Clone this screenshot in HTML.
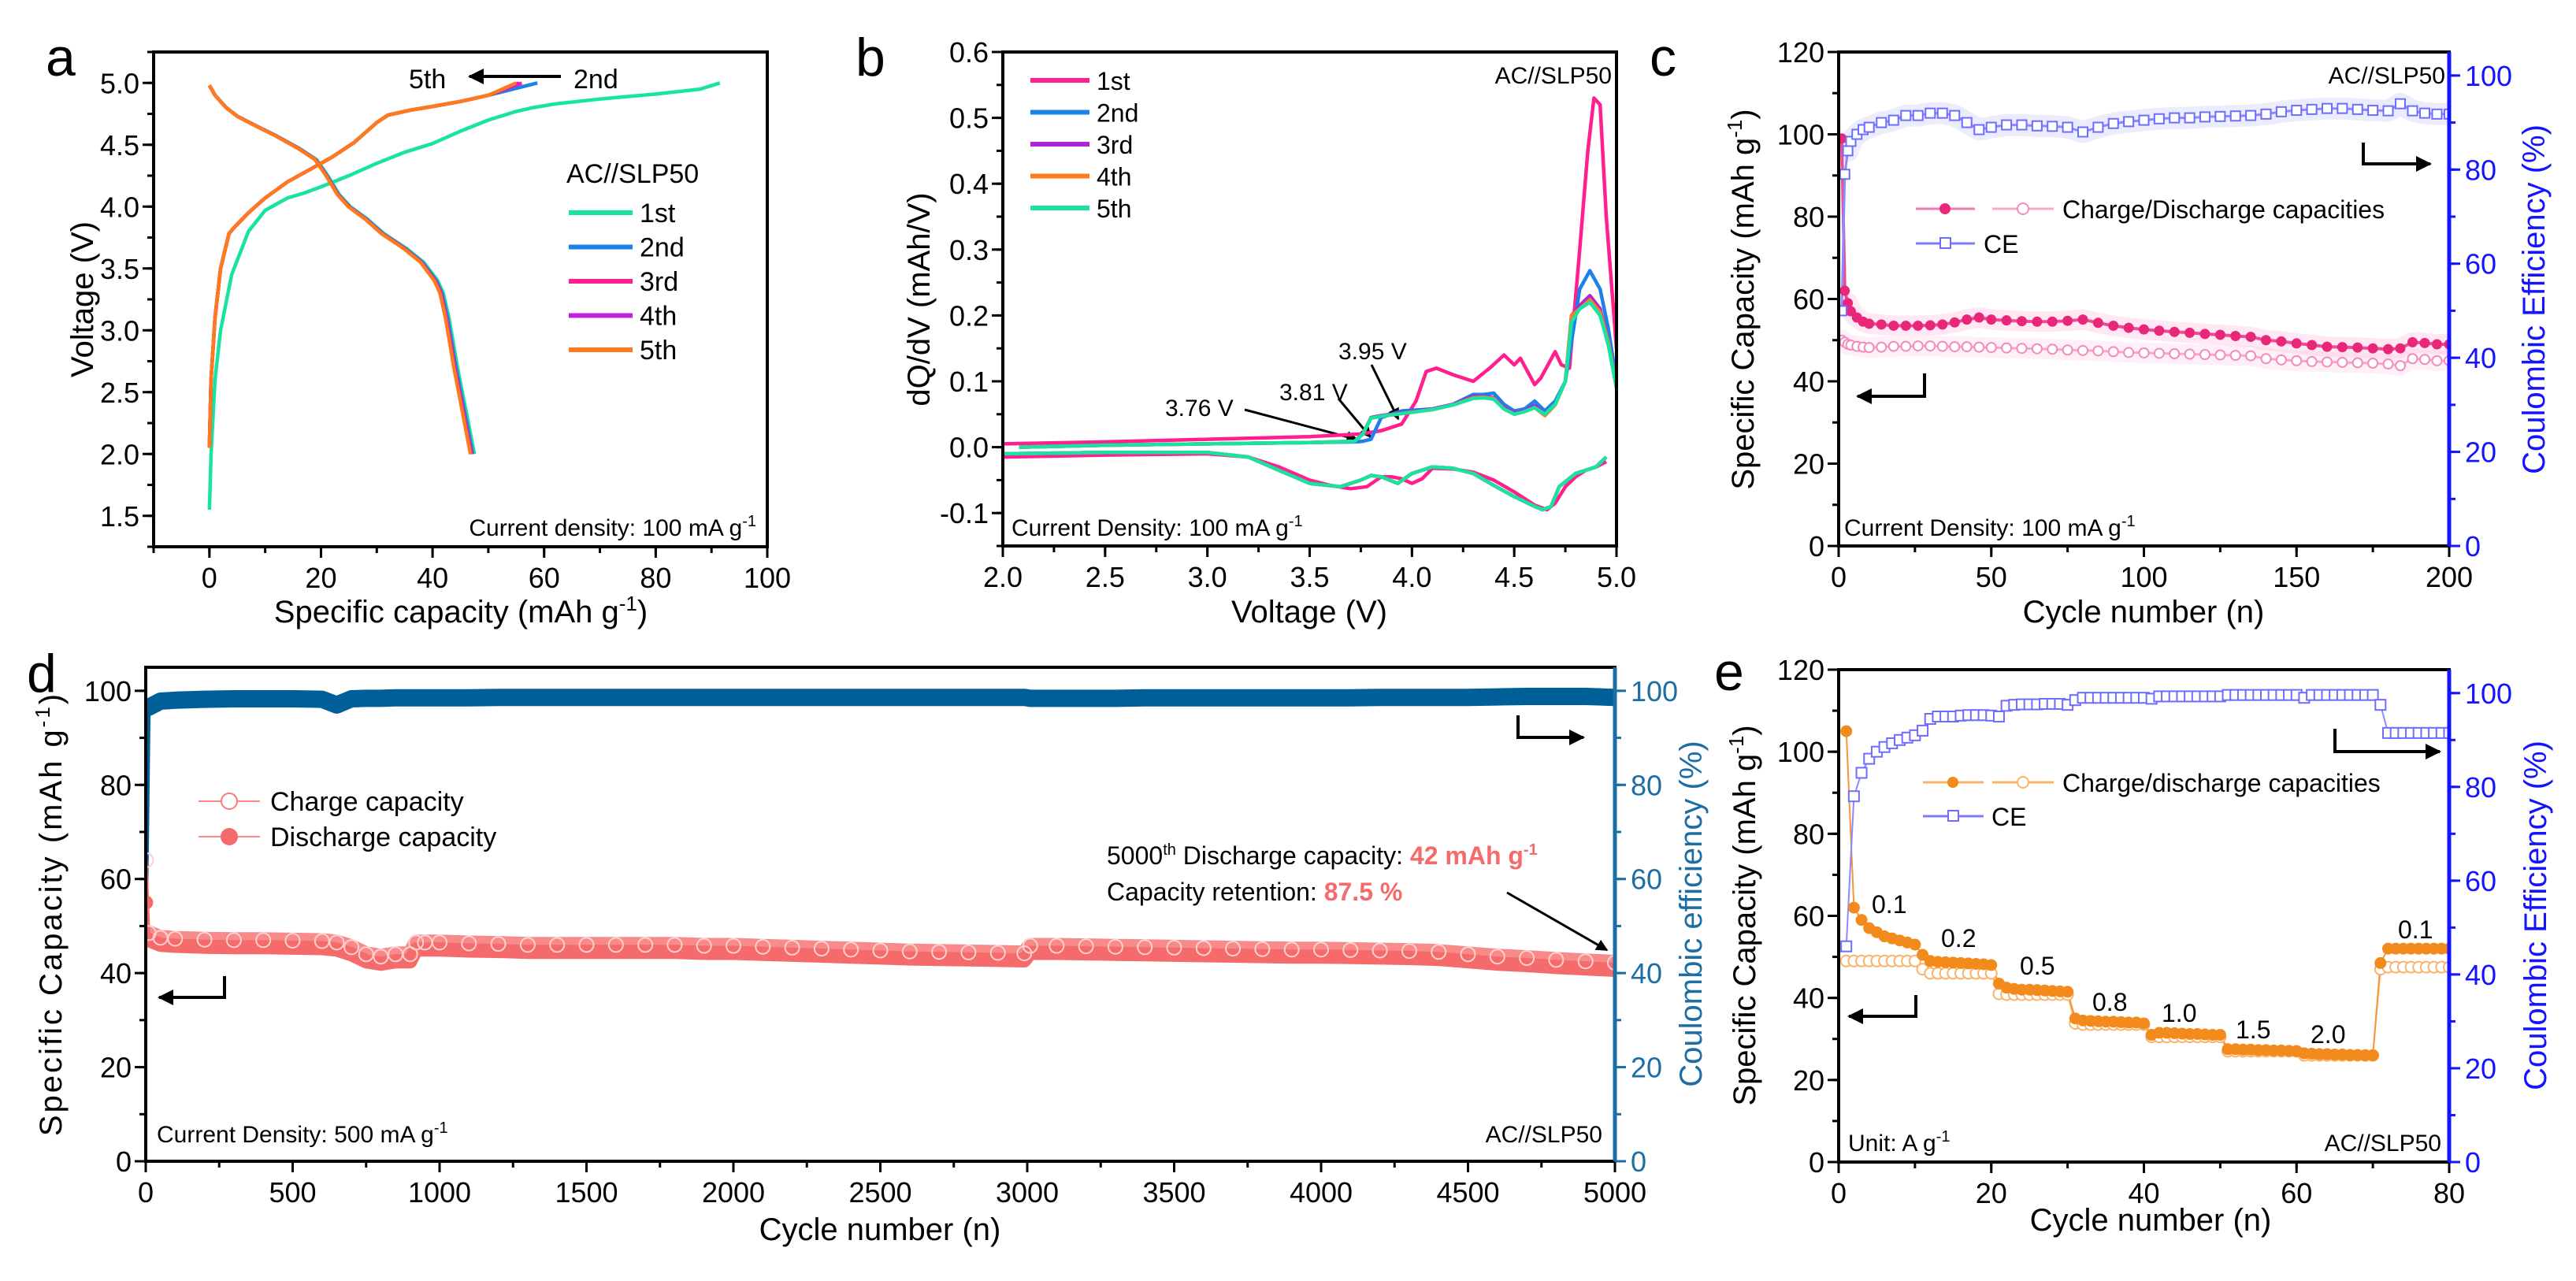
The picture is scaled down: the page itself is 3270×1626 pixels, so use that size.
<!DOCTYPE html>
<html><head><meta charset="utf-8"><style>
html,body{margin:0;padding:0;background:#fff;}
svg{display:block;font-family:"Liberation Sans",Arial,sans-serif;}
</style></head><body>
<svg id="fig" width="3270" height="1626" viewBox="0 0 3270 1626" xmlns="http://www.w3.org/2000/svg">
<defs>
<marker id="ah" markerWidth="5" markerHeight="5" refX="4.5" refY="2.5" orient="auto" markerUnits="strokeWidth"><path d="M0,0 L5,2.5 L0,5 z" fill="#000"/></marker>
</defs>
<rect x="0" y="0" width="3270" height="1626" fill="#fff"/>

<!-- panel letters -->
<text x="58" y="96" font-size="68">a</text>
<text x="1086" y="96" font-size="68">b</text>
<text x="2094" y="96" font-size="68">c</text>
<text x="34" y="878" font-size="68">d</text>
<text x="2176" y="876" font-size="68">e</text>

<!-- panel a texts -->
<text transform="translate(118,380) rotate(-90)" text-anchor="middle" font-size="40">Voltage (V)</text>
<text x="585" y="790" text-anchor="middle" font-size="40">Specific capacity (mAh g<tspan dy="-15" font-size="26">-1</tspan><tspan dy="15">)</tspan></text>
<text x="519" y="112" font-size="34">5th</text>
<line x1="712" y1="97" x2="596" y2="97" stroke="#000" stroke-width="4" marker-end="url(#ah)"/>
<text x="728" y="112" font-size="34">2nd</text>
<text x="719" y="232" font-size="34">AC//SLP50</text>
<text x="960" y="680" text-anchor="end" font-size="30">Current density: 100 mA g<tspan dy="-12" font-size="20">-1</tspan></text>

<!-- panel b texts -->
<text transform="translate(1180,380) rotate(-90)" text-anchor="middle" font-size="40">dQ/dV (mAh/V)</text>
<text x="1662" y="790" text-anchor="middle" font-size="40">Voltage (V)</text>
<text x="2046" y="106" text-anchor="end" font-size="30">AC//SLP50</text>
<text x="1284" y="680" font-size="30">Current Density: 100 mA g<tspan dy="-12" font-size="20">-1</tspan></text>
<text x="1479" y="528" font-size="30">3.76 V</text>
<line x1="1580" y1="520" x2="1723" y2="558" stroke="#000" stroke-width="3" marker-end="url(#ah)"/>
<text x="1624" y="508" font-size="30">3.81 V</text>
<line x1="1699" y1="506" x2="1740" y2="555" stroke="#000" stroke-width="3" marker-end="url(#ah)"/>
<text x="1699" y="456" font-size="30">3.95 V</text>
<line x1="1741" y1="463" x2="1775" y2="532" stroke="#000" stroke-width="3" marker-end="url(#ah)"/>

<!-- panel c texts -->
<text transform="translate(2226,380) rotate(-90)" text-anchor="middle" font-size="40">Specific Capacity (mAh g<tspan dy="-15" font-size="26">-1</tspan><tspan dy="15">)</tspan></text>
<text transform="translate(3230,380) rotate(-90)" text-anchor="middle" font-size="40" fill="#1414ff">Coulombic Efficiency (%)</text>
<text x="2721" y="790" text-anchor="middle" font-size="40">Cycle number (n)</text>
<text x="3104" y="106" text-anchor="end" font-size="30">AC//SLP50</text>
<text x="2341" y="680" font-size="30">Current Density: 100 mA g<tspan dy="-12" font-size="20">-1</tspan></text>
<g>
<line x1="2432" y1="265" x2="2507" y2="265" stroke="#f07ab0" stroke-width="3"/>
<circle cx="2469" cy="265" r="7" fill="#e8267a"/>
<line x1="2529" y1="265" x2="2607" y2="265" stroke="#f6a8cc" stroke-width="3"/>
<circle cx="2568" cy="265" r="7" fill="#fff" stroke="#f28cbc" stroke-width="2"/>
<text x="2618" y="277" font-size="32">Charge/Discharge capacities</text>
<line x1="2432" y1="309" x2="2507" y2="309" stroke="#7b7bff" stroke-width="3"/>
<rect x="2463" y="302" width="13" height="13" fill="#fff" stroke="#6d6dff" stroke-width="2"/>
<text x="2518" y="321" font-size="32">CE</text>
</g>
<path d="M3000,181 L3000,208 L3085,208" fill="none" stroke="#000" stroke-width="4" marker-end="url(#ah)"/>
<path d="M2443,474 L2443,503 L2358,503" fill="none" stroke="#000" stroke-width="4" marker-end="url(#ah)"/>

<!-- panel d texts -->
<text transform="translate(78,1160) rotate(-90)" text-anchor="middle" font-size="40" letter-spacing="3">Specific Capacity (mAh g<tspan dy="-15" font-size="26">-1</tspan><tspan dy="15">)</tspan></text>
<text transform="translate(2160,1160) rotate(-90)" text-anchor="middle" font-size="40" fill="#1c6ea4">Coulombic efficiency (%)</text>
<text x="1117" y="1574" text-anchor="middle" font-size="40">Cycle number (n)</text>
<g>
<line x1="252" y1="1017" x2="330" y2="1017" stroke="#f88" stroke-width="2"/>
<circle cx="291" cy="1017" r="10" fill="#fff" stroke="#f77" stroke-width="2"/>
<text x="343" y="1029" font-size="34">Charge capacity</text>
<line x1="252" y1="1062" x2="330" y2="1062" stroke="#f88" stroke-width="2"/>
<circle cx="291" cy="1062" r="11" fill="#f56b6b"/>
<text x="343" y="1074" font-size="34">Discharge capacity</text>
</g>
<text x="1405" y="1097" font-size="32">5000<tspan dy="-12" font-size="20">th</tspan><tspan dy="12"> Discharge capacity: </tspan><tspan fill="#f56b6b" font-weight="bold">42 mAh g<tspan dy="-12" font-size="20">-1</tspan></tspan></text>
<text x="1405" y="1143" font-size="32">Capacity retention: <tspan fill="#f56b6b" font-weight="bold">87.5 %</tspan></text>
<line x1="1913" y1="1133" x2="2040" y2="1206" stroke="#000" stroke-width="3" marker-end="url(#ah)"/>
<path d="M1927,908 L1927,936 L2010,936" fill="none" stroke="#000" stroke-width="4" marker-end="url(#ah)"/>
<path d="M285,1239 L285,1266 L202,1266" fill="none" stroke="#000" stroke-width="4" marker-end="url(#ah)"/>
<text x="199" y="1450" font-size="30">Current Density: 500 mA g<tspan dy="-12" font-size="20">-1</tspan></text>
<text x="2034" y="1450" text-anchor="end" font-size="30">AC//SLP50</text>

<!-- panel e texts -->
<text transform="translate(2228,1162) rotate(-90)" text-anchor="middle" font-size="40">Specific Capacity (mAh g<tspan dy="-15" font-size="26">-1</tspan><tspan dy="15">)</tspan></text>
<text transform="translate(3232,1162) rotate(-90)" text-anchor="middle" font-size="40" fill="#1414ff">Coulombic Efficiency (%)</text>
<text x="2730" y="1562" text-anchor="middle" font-size="40">Cycle number (n)</text>
<g>
<line x1="2441" y1="993" x2="2518" y2="993" stroke="#f9b36a" stroke-width="3"/>
<circle cx="2479" cy="993" r="7" fill="#f28a1c"/>
<line x1="2529" y1="993" x2="2607" y2="993" stroke="#f9b36a" stroke-width="3"/>
<circle cx="2568" cy="993" r="7" fill="#fff" stroke="#f9b36a" stroke-width="2"/>
<text x="2618" y="1005" font-size="32">Charge/discharge capacities</text>
<line x1="2441" y1="1036" x2="2518" y2="1036" stroke="#7b7bff" stroke-width="3"/>
<rect x="2473" y="1029" width="13" height="13" fill="#fff" stroke="#6d6dff" stroke-width="2"/>
<text x="2528" y="1048" font-size="32">CE</text>
</g>
<path d="M2964,925 L2964,954 L3097,954" fill="none" stroke="#000" stroke-width="4" marker-end="url(#ah)"/>
<path d="M2432,1263 L2432,1290 L2347,1290" fill="none" stroke="#000" stroke-width="4" marker-end="url(#ah)"/>
<text x="2346" y="1461" font-size="30">Unit: A g<tspan dy="-12" font-size="20">-1</tspan></text>
<text x="3099" y="1461" text-anchor="end" font-size="30">AC//SLP50</text>
<g font-size="32">
<text x="2376" y="1159">0.1</text>
<text x="2464" y="1202">0.2</text>
<text x="2564" y="1237">0.5</text>
<text x="2656" y="1283">0.8</text>
<text x="2744" y="1297">1.0</text>
<text x="2838" y="1318">1.5</text>
<text x="2933" y="1324">2.0</text>
<text x="3044" y="1191">0.1</text>
</g>
</svg>
<script>
// ---------- Panel a data ----------
const aCharge1Cap=[0,0.3,1,2,4,7,10,12,14,17,20,25,30,35,40,45,50,55,58,62,70,80,88,91.5];
const aCharge1V=[1.55,2.0,2.6,3.0,3.45,3.8,3.97,4.02,4.07,4.11,4.16,4.25,4.35,4.44,4.51,4.61,4.7,4.77,4.8,4.83,4.87,4.91,4.95,5.0];
const aChargeCap=[0,0.3,1,2,3.5,4.2,7,10,14,18,22,26,30,32,36,40,45,50];
const aChargeV=[2.05,2.6,3.1,3.5,3.78,3.82,3.95,4.07,4.2,4.3,4.4,4.52,4.68,4.74,4.78,4.81,4.85,4.9];
const aChargeEnd=[58.8,56,55.5,55];
const aDisCap=[0,1,3,5,8,12,16,19,21,23,25,28,31,35,38,40.5,41.5,42.5,44,45.5,47];
const aDisV=[4.98,4.9,4.8,4.73,4.66,4.57,4.47,4.38,4.25,4.1,4.0,3.9,3.78,3.66,3.55,3.4,3.3,3.1,2.7,2.35,2.0];
const aDisShift=[0.5,0.2,0,-0.1,-0.2];
const aCycles=['1st','2nd','3rd','4th','5th'];
// ---------- Panel b data ----------
const bV1=[2.0,2.5,3.0,3.5,3.75,3.85,3.95,4.02,4.07,4.12,4.2,4.3,4.38,4.45,4.5,4.53,4.6,4.63,4.7,4.73,4.77,4.82,4.86,4.89,4.92,4.95,5.0];
const bQ1=[0.005,0.008,0.012,0.016,0.02,0.025,0.035,0.07,0.115,0.12,0.11,0.10,0.12,0.14,0.125,0.135,0.095,0.105,0.145,0.125,0.12,0.30,0.45,0.53,0.52,0.35,0.15];
const bVn=[2.08,2.5,3.0,3.5,3.72,3.76,3.8,3.85,3.95,4.1,4.2,4.3,4.35,4.4,4.45,4.5,4.55,4.6,4.65,4.7,4.75,4.78,4.82,4.87,4.92,4.96,5.0];
const bQ2=[0,0.003,0.005,0.007,0.008,0.009,0.012,0.045,0.055,0.058,0.065,0.08,0.08,0.082,0.065,0.055,0.058,0.07,0.055,0.07,0.1,0.16,0.24,0.268,0.24,0.18,0.1];
const bQ3=[0,0.003,0.005,0.007,0.009,0.02,0.045,0.048,0.052,0.058,0.065,0.077,0.077,0.075,0.06,0.052,0.055,0.063,0.05,0.065,0.1,0.2,0.215,0.23,0.21,0.16,0.09];
const bQ4=[0,0.003,0.005,0.007,0.009,0.02,0.044,0.047,0.051,0.057,0.064,0.075,0.076,0.074,0.058,0.05,0.054,0.06,0.048,0.064,0.1,0.2,0.21,0.224,0.205,0.16,0.09];
const bQ5=[0,0.003,0.005,0.007,0.009,0.02,0.044,0.047,0.051,0.057,0.064,0.074,0.075,0.073,0.058,0.05,0.054,0.06,0.05,0.065,0.1,0.19,0.21,0.22,0.2,0.155,0.09];
const bVd1=[2.0,2.5,3.0,3.2,3.35,3.5,3.6,3.7,3.78,3.85,3.9,3.95,4.0,4.05,4.1,4.2,4.3,4.4,4.5,4.6,4.66,4.7,4.75,4.8,4.85,4.9,4.95];
const bD1=[-0.015,-0.012,-0.01,-0.015,-0.03,-0.05,-0.058,-0.063,-0.06,-0.045,-0.045,-0.048,-0.055,-0.048,-0.032,-0.033,-0.038,-0.05,-0.068,-0.088,-0.095,-0.085,-0.06,-0.045,-0.035,-0.03,-0.022];
const bVdn=[2.0,2.5,3.0,3.2,3.35,3.5,3.65,3.75,3.8,3.85,3.93,4.0,4.1,4.2,4.3,4.4,4.5,4.6,4.64,4.68,4.72,4.8,4.85,4.9,4.95];
const bDn=[-0.01,-0.008,-0.008,-0.015,-0.035,-0.055,-0.06,-0.05,-0.043,-0.045,-0.055,-0.04,-0.03,-0.032,-0.04,-0.058,-0.075,-0.09,-0.095,-0.09,-0.06,-0.04,-0.035,-0.03,-0.015];
// ---------- Panel c data ----------
const cCycles=[1,2,3,4,6,8,10,14,18,22,26,30,34,38,42,46,50,55,60,65,70,75,80,85,90,95,100,105,110,115,120,125,130,135,140,145,150,155,160,165,170,175,180,184,188,192,196,200];
const cDischarge=[99,62,59,57,55.5,54.5,54,53.8,53.5,53.5,53.5,53.6,53.8,54.3,55,55.5,55,54.8,54.6,54.5,54.5,54.7,55,54.2,53.5,53,52.6,52.3,52,51.8,51.5,51.3,51,50.8,50,49.7,49.2,48.8,48.4,48.3,48.2,48,47.8,48,49.5,49.3,49,49];
const cCharge=[50,49.5,49,48.8,48.5,48.3,48.2,48.3,48.5,48.5,48.6,48.6,48.5,48.4,48.4,48.3,48.2,48.1,48,47.9,47.8,47.6,47.5,47.4,47.2,47,46.9,46.8,46.7,46.6,46.5,46.4,46.3,46.2,45.5,45.2,45,44.8,44.7,44.6,44.5,44.4,44.2,43.8,45.5,45.3,45,45];
const cCE=[50,79,84,86,87.5,88.5,89,90,90.5,91.5,91.5,92,92,91.5,90,88.5,89,89.5,89.5,89.3,89.2,89,88,89,89.8,90.2,90.5,90.8,91,91,91.2,91.3,91.4,91.5,91.8,92.3,92.6,92.8,93,93,92.8,92.6,92.5,94,92.5,92,91.8,91.8];
// ---------- Panel d data ----------
const dCycles=[1,10,50,100,200,300,400,500,600,650,700,750,800,850,900,920,950,1000,1100,1200,1300,1400,1500,1600,1700,1800,1900,2000,2100,2200,2300,2400,2500,2600,2700,2800,2900,2990,3010,3100,3200,3300,3400,3500,3600,3700,3800,3900,4000,4100,4200,4300,4400,4500,4600,4700,4800,4900,5000];
const dDischarge=[55,47,46,45.8,45.6,45.5,45.5,45.4,45.3,45,44,42.5,42,42.5,42.5,45,45,45,44.8,44.7,44.5,44.5,44.5,44.5,44.5,44.5,44.3,44.3,44.1,43.9,43.7,43.5,43.3,43.1,43,42.9,42.8,42.7,44.3,44.3,44.2,44.1,44,43.9,43.8,43.7,43.6,43.5,43.5,43.4,43.3,43.2,43,42.5,42,41.7,41.3,41,40.7];
const dCharge=[64,48.5,47.5,47.3,47.1,47,47,46.9,46.8,46.5,45.5,44,43.5,44,44,46.5,46.5,46.5,46.3,46.2,46,46,46,46,46,46,45.8,45.8,45.6,45.4,45.2,45,44.8,44.6,44.5,44.4,44.3,44.2,45.8,45.8,45.7,45.6,45.5,45.4,45.3,45.2,45.1,45,45,44.9,44.8,44.7,44.5,44,43.5,43.2,42.8,42.5,42.2];
const dCE=[52,96.5,97.8,98,98.2,98.3,98.3,98.3,98.2,97,98.3,98.4,98.4,98.5,98.5,98.5,98.5,98.5,98.5,98.6,98.6,98.6,98.6,98.6,98.6,98.6,98.6,98.6,98.6,98.6,98.6,98.6,98.6,98.6,98.6,98.6,98.6,98.6,98.4,98.4,98.4,98.4,98.5,98.5,98.5,98.5,98.5,98.5,98.5,98.5,98.6,98.6,98.6,98.6,98.7,98.8,98.8,98.8,98.6];
// ---------- Panel e data ----------
const eCycles=[1,2,3,4,5,6,7,8,9,10,11,12,13,14,15,16,17,18,19,20,21,22,23,24,25,26,27,28,29,30,31,32,33,34,35,36,37,38,39,40,41,42,43,44,45,46,47,48,49,50,51,52,53,54,55,56,57,58,59,60,61,62,63,64,65,66,67,68,69,70,71,72,73,74,75,76,77,78,79,80];
const eDischarge=[105,62,59,57,56,55,54.5,54,53.5,53,50.5,49,48.8,48.7,48.6,48.5,48.4,48.3,48.2,48,43.5,42.5,42.2,42,42,41.9,41.8,41.7,41.6,41.5,35,34.5,34.4,34.3,34.2,34.2,34.1,34,34,33.8,31,31.5,31.5,31.4,31.3,31.2,31.2,31.1,31,31,27.5,27.5,27.4,27.4,27.3,27.3,27.2,27.2,27.1,27,26.5,26.4,26.3,26.3,26.2,26.2,26.1,26.1,26,26,48.5,52,52,52,52,52,52,52,52,52];
const eCharge=[49,49,49,49,49,49,49,49,49,49,47,46,46,46,46,46,46,46,46,46,41,40.8,40.8,40.8,40.8,40.8,40.8,40.8,40.8,40.8,33.8,33.5,33.5,33.5,33.5,33.5,33.5,33.5,33.5,33.5,30.5,30.5,30.5,30.5,30.5,30.5,30.5,30.5,30.5,30.5,27,27,27,27,27,27,27,27,27,27,26,26,26,26,26,26,26,26,26,26,47,47.5,47.5,47.5,47.5,47.5,47.5,47.5,47.5,47.5];
const eCE=[46,78,83,86,87.5,88.5,89.3,90,90.5,91,92,94.5,95,95,95,95.2,95.3,95.3,95.3,95.2,95,97.3,97.5,97.6,97.6,97.6,97.7,97.7,97.7,97.5,98.5,99,99,99,99,99,99,99,99,99,98.8,99.3,99.3,99.3,99.3,99.3,99.3,99.3,99.3,99.3,99.6,99.6,99.6,99.6,99.6,99.6,99.6,99.6,99.6,99.6,99,99.6,99.6,99.6,99.6,99.6,99.6,99.6,99.6,99.6,97.5,91.5,91.5,91.5,91.5,91.5,91.5,91.5,91.5,91.5];

const NS='http://www.w3.org/2000/svg';
const svg=document.getElementById('fig');
function mk(tag,attrs,parent){
  const e=document.createElementNS(NS,tag);
  for(const k in attrs) e.setAttribute(k,attrs[k]);
  (parent||svg).appendChild(e);
  return e;
}
function lin(d0,d1,r0,r1){return v=>r0+(v-d0)/(d1-d0)*(r1-r0);}
function range(a,b,s){const o=[];for(let v=a;v<=b+1e-9;v+=s)o.push(+v.toFixed(6));return o;}

function axes(name,p,xs,ys,xt,xm,xf,yt,ym,yf,r){
  const g=mk('g',{});
  
  
  xm.forEach(v=>{const x=xs(v);mk('line',{x1:x,y1:p.b,x2:x,y2:p.b+8,stroke:'#000','stroke-width':3},g);});
  xt.forEach(v=>{const x=xs(v);mk('line',{x1:x,y1:p.b,x2:x,y2:p.b+14,stroke:'#000','stroke-width':3},g);
    const t=mk('text',{x:x,y:p.b+52,'text-anchor':'middle','font-size':36},g);
    
    
    t.textContent=xf(v);});
  ym.forEach(v=>{const y=ys(v);mk('line',{x1:p.l,y1:y,x2:p.l-8,y2:y,stroke:'#000','stroke-width':3},g);});
  yt.forEach(v=>{const y=ys(v);mk('line',{x1:p.l,y1:y,x2:p.l-14,y2:y,stroke:'#000','stroke-width':3},g);
    const t=mk('text',{x:p.l-18,y:y+13,'text-anchor':'end','font-size':36},g);
    
    
    t.textContent=yf(v);});
  mk('rect',{x:p.l,y:p.t,width:p.r-p.l,height:p.b-p.t,fill:'none',stroke:'#000','stroke-width':4},g);
  if(r){
    mk('line',{x1:p.r,y1:p.t,x2:p.r,y2:p.b,stroke:r.color,'stroke-width':5},g);
    r.minor.forEach(v=>{const y=r.s(v);mk('line',{x1:p.r,y1:y,x2:p.r+8,y2:y,stroke:r.color,'stroke-width':3},g);});
    r.ticks.forEach(v=>{const y=r.s(v);mk('line',{x1:p.r,y1:y,x2:p.r+14,y2:y,stroke:r.color,'stroke-width':3},g);
      const t=mk('text',{x:p.r+20,y:y+13,'font-size':36,fill:r.color},g);
      
      
      t.textContent=String(v);});
  }
}
function clip(id,p){const c=mk('clipPath',{id:id});mk('rect',{x:p.l,y:p.t,width:p.r-p.l,height:p.b-p.t},c);return 'url(#'+id+')';}
function pathD(xa,ya,xs,ys){return xa.map((v,i)=>(i?'L':'M')+xs(v).toFixed(1)+','+ys(ya[i]).toFixed(1)).join(' ');}

// ===== Panel a =====
const pa={l:195,r:974,t:66,b:694};
const axs=lin(-10,100,pa.l,pa.r), ays=lin(1.25,5.25,pa.b,pa.t);
const aColors=['#19e3a0','#1e80ea','#ff1f8f','#c31fe0','#ff7a1a'];
const ga=mk('g',{'clip-path':clip('clipa',pa)});


for(let k=0;k<5;k++){
  let cx,cv;
  if(k===0){cx=aCharge1Cap;cv=aCharge1V;}
  else{cx=aChargeCap.concat([aChargeEnd[k-1]]);cv=aChargeV.concat([5.0]);}
  const c=mk('path',{d:pathD(cx,cv,axs,ays),fill:'none',stroke:aColors[k],'stroke-width':4.5,'stroke-linejoin':'round'},ga);
  
  
  const dx=aDisCap.map(v=>v+aDisShift[k]*(v/47));
  const d=mk('path',{d:pathD(dx,aDisV,axs,ays),fill:'none',stroke:aColors[k],'stroke-width':4.5,'stroke-linejoin':'round'},ga);
  
  
}
axes('a',pa,axs,ays,range(0,100,20),range(-10,100,10),v=>String(v),range(1.5,5.0,0.5),range(1.25,5.25,0.25),v=>v.toFixed(1),null);
for(let k=0;k<5;k++){
  const y=270+k*43.5;
  const l=mk('line',{x1:722,y1:y,x2:803,y2:y,stroke:aColors[k],'stroke-width':6});
  
  
  const t=mk('text',{x:812,y:y+12,'font-size':34});
  
  
  t.textContent=aCycles[k];
}

// ===== Panel b =====
const pb={l:1273,r:2052,t:66,b:693};
const bxs=lin(2,5,pb.l,pb.r), bys=lin(-0.15,0.6,pb.b,pb.t);
const bColors=['#ff1f8f','#1e80ea','#b024d8','#ff7a1a','#19e3a0'];
const bCharge=[bQ1,bQ2,bQ3,bQ4,bQ5];
const gb=mk('g',{'clip-path':clip('clipb',pb)});


for(let k=0;k<5;k++){
  const vx=k===0?bV1:bVn;
  const c=mk('path',{d:pathD(vx,bCharge[k],bxs,bys),fill:'none',stroke:bColors[k],'stroke-width':4.5,'stroke-linejoin':'round'},gb);
  
  
  const dv=k===0?bVd1:bVdn, dq=k===0?bD1:bDn;
  const d=mk('path',{d:pathD(dv,dq,bxs,bys),fill:'none',stroke:bColors[k],'stroke-width':4.5,'stroke-linejoin':'round'},gb);
  
  
}
axes('b',pb,bxs,bys,range(2,5,0.5),range(2,5,0.25),v=>v.toFixed(1),range(-0.1,0.6,0.1),range(-0.15,0.6,0.05),v=>v.toFixed(1).replace('-0.0','0.0'),null);
for(let k=0;k<5;k++){
  const y=102+k*40.5;
  const l=mk('line',{x1:1308,y1:y,x2:1383,y2:y,stroke:bColors[k],'stroke-width':6});
  
  
  const t=mk('text',{x:1392,y:y+12,'font-size':32});
  
  
  t.textContent=aCycles[k];
}

// ===== Panel c =====
const pc={l:2334,r:3109,t:66,b:693};
const cxs=lin(0,200,pc.l,pc.r), cys=lin(0,120,pc.b,pc.t), cys2=lin(0,105,pc.b,pc.t);
const gc=mk('g',{'clip-path':clip('clipc',pc)});


function band(g,xa,ya,xs,ys,w,col,nm){
  const b=mk('path',{d:pathD(xa,ya,xs,ys),fill:'none',stroke:col,'stroke-width':w,'stroke-linejoin':'round','stroke-linecap':'round'},g);
  
  
}
band(gc,cCycles.slice(2),cCE.slice(2),cxs,cys2,28,'rgba(150,150,255,0.18)','c-ce-error-band');
band(gc,cCycles.slice(2),cDischarge.slice(2),cxs,cys,26,'rgba(255,130,190,0.18)','c-discharge-error-band');
band(gc,cCycles,cCharge,cxs,cys,26,'rgba(255,170,210,0.18)','c-charge-error-band');
band(gc,cCycles,cCharge,cxs,cys,3,'#f6a8cc','c-charge-line');
band(gc,cCycles,cDischarge,cxs,cys,4,'#ec4d92','c-discharge-line');
band(gc,cCycles,cCE,cxs,cys2,3,'#8a8aff','c-ce-line');
cCycles.forEach((c,i)=>{
  const m=mk('circle',{cx:cxs(c),cy:cys(cCharge[i]),r:6,fill:'#fff',stroke:'#f28cbc','stroke-width':2},gc);
  
  
});
cCycles.forEach((c,i)=>{
  const m=mk('circle',{cx:cxs(c),cy:cys(cDischarge[i]),r:6.5,fill:'#e8267a'},gc);
  
  
});
cCycles.forEach((c,i)=>{
  const m=mk('rect',{x:cxs(c)-6,y:cys2(cCE[i])-6,width:12,height:12,fill:'#fff',stroke:'#6d6dff','stroke-width':2},gc);
  
  
});
axes('c',pc,cxs,cys,range(0,200,50),range(0,200,25),v=>String(v),range(0,120,20),range(0,120,10),v=>String(v),{s:cys2,color:'#1414ff',ticks:range(0,100,20),minor:range(0,100,10)});

// ===== Panel d =====
const pd={l:185,r:2050,t:847,b:1474};
const dxs=lin(0,5000,pd.l,pd.r), dys=lin(0,105,pd.b,pd.t);
const gd=mk('g',{'clip-path':clip('clipd',pd)});


band(gd,dCycles.slice(1),dCE.slice(1),dxs,dys,22,'#005f98','d-ce-band');
band(gd,dCycles.slice(0,2),dCE.slice(0,2),dxs,dys,5,'#005f98','d-ce-initial');
band(gd,dCycles.slice(1),dCharge.slice(1),dxs,dys,20,'#f88a8a','d-charge-band');
band(gd,dCycles.slice(1),dDischarge.slice(1),dxs,dys,18,'#f56b6b','d-discharge-band');
band(gd,dCycles.slice(0,2),dCharge.slice(0,2),dxs,dys,4,'#f56b6b','d-charge-initial');
dCycles.forEach((c,i)=>{
  const m=mk('circle',{cx:dxs(c),cy:dys(dCharge[i]),r:9,fill:'none',stroke:'#ffd0d0','stroke-width':2},gd);
  
  
});
{const m=mk('circle',{cx:dxs(dCycles[0]),cy:dys(dDischarge[0]),r:9,fill:'#f56b6b'},gd);

}
axes('d',pd,dxs,dys,range(0,5000,500),range(0,5000,250),v=>String(v),range(0,100,20),range(0,100,10),v=>String(v),{s:dys,color:'#1c6ea4',ticks:range(0,100,20),minor:range(0,100,10)});

// ===== Panel e =====
const pe={l:2334,r:3109,t:850,b:1475};
const exs=lin(0,80,pe.l,pe.r), eys=lin(0,120,pe.b,pe.t), eys2=lin(0,105,pe.b,pe.t);
const ge=mk('g',{'clip-path':clip('clipe',pe)});


band(ge,eCycles,eCharge,exs,eys,2,'#f9b36a','e-charge-line');
band(ge,eCycles,eDischarge,exs,eys,2,'#f6953a','e-discharge-line');
band(ge,eCycles,eCE,exs,eys2,2,'#8a8aff','e-ce-line');
eCycles.forEach((c,i)=>{
  const m=mk('circle',{cx:exs(c),cy:eys(eCharge[i]),r:7,fill:'#fff',stroke:'#f9b36a','stroke-width':2},ge);
  
  
});
eCycles.forEach((c,i)=>{
  const m=mk('circle',{cx:exs(c),cy:eys(eDischarge[i]),r:7.5,fill:'#f28a1c'},ge);
  
  
});
eCycles.forEach((c,i)=>{
  const m=mk('rect',{x:exs(c)-6.5,y:eys2(eCE[i])-6.5,width:13,height:13,fill:'#fff',stroke:'#6d6dff','stroke-width':2},ge);
  
  
});
axes('e',pe,exs,eys,range(0,80,20),range(0,80,10),v=>String(v),range(0,120,20),range(0,120,10),v=>String(v),{s:eys2,color:'#1414ff',ticks:range(0,100,20),minor:range(0,100,10)});
</script>
</body></html>
